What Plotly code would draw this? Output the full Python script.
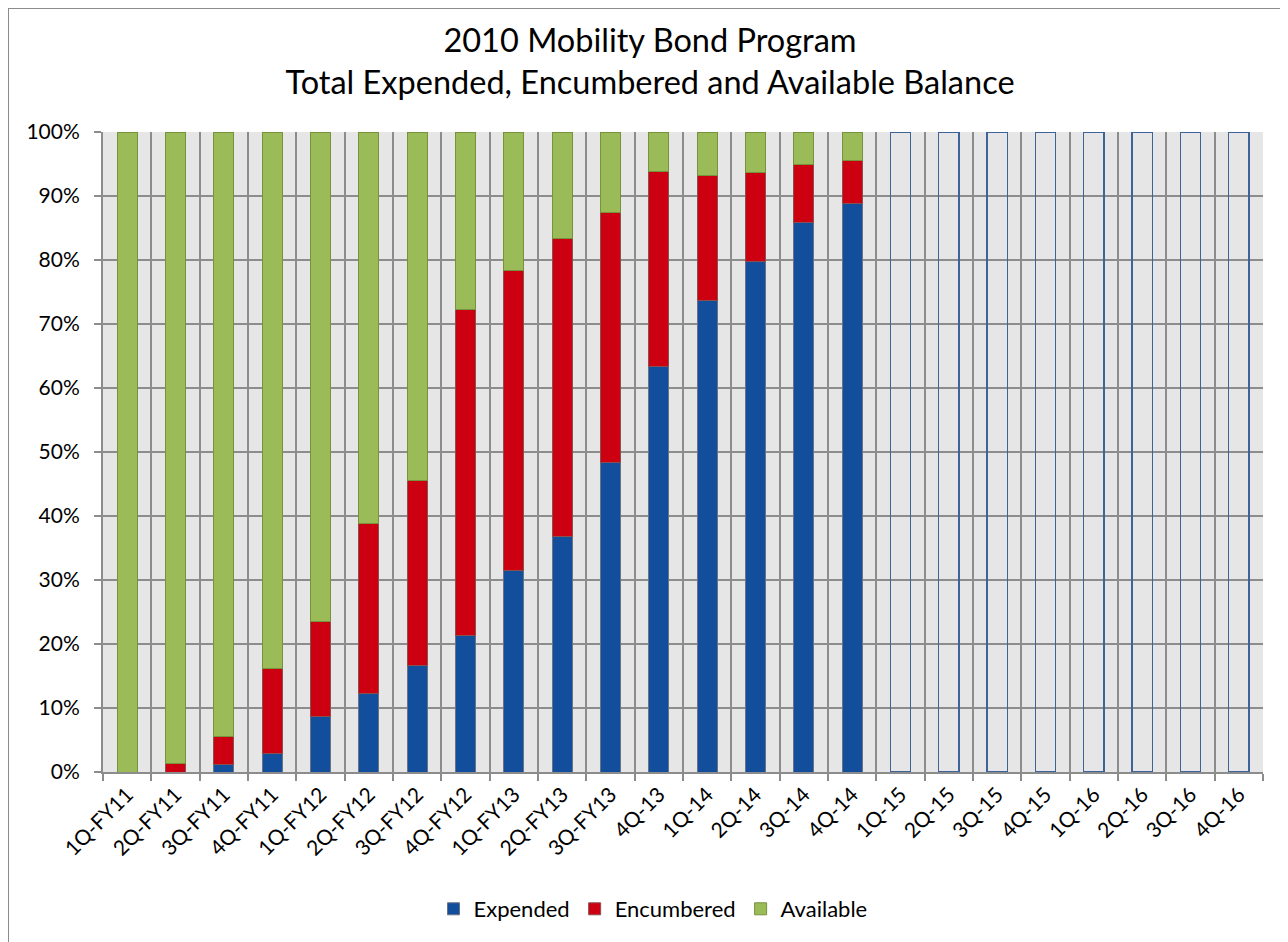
import plotly.graph_objects as go

categories = ["1Q-FY11", "2Q-FY11", "3Q-FY11", "4Q-FY11", "1Q-FY12", "2Q-FY12", "3Q-FY12", "4Q-FY12",
              "1Q-FY13", "2Q-FY13", "3Q-FY13", "4Q-13", "1Q-14", "2Q-14", "3Q-14", "4Q-14",
              "1Q-15", "2Q-15", "3Q-15", "4Q-15", "1Q-16", "2Q-16", "3Q-16", "4Q-16"]

expended = [0, 0, 1.1, 2.9, 8.6, 12.3, 16.7, 21.4, 31.5, 36.8, 48.3, 63.3, 73.6, 79.7, 85.9, 88.9,
            None, None, None, None, None, None, None, None]
encumbered = [0, 1.35, 4.4, 13.2, 14.9, 26.6, 28.8, 50.8, 46.8, 46.6, 39.2, 30.6, 19.6, 13.9, 9.1, 6.7,
              None, None, None, None, None, None, None, None]
available = [100, 98.65, 94.5, 83.9, 76.5, 61.1, 54.5, 27.8, 21.7, 16.6, 12.5, 6.1, 6.8, 6.4, 5.0, 4.4,
             None, None, None, None, None, None, None, None]
projected = [None] * 16 + [100] * 8

FONT = "Lato, 'Open Sans', sans-serif"


def frac(vals):
    return [v / 100 if v is not None else None for v in vals]


fig = go.Figure()
fig.add_trace(go.Bar(x=categories, y=frac(expended), name="Expended",
                     marker=dict(color="#124E9C", line=dict(color="#6a7385", width=1))))
fig.add_trace(go.Bar(x=categories, y=frac(encumbered), name="Encumbered",
                     marker=dict(color="#CC0010", line=dict(color="#8a5050", width=1))))
fig.add_trace(go.Bar(x=categories, y=frac(available), name="Available",
                     marker=dict(color="#9BBB59", line=dict(color="#76923C", width=1))))
fig.add_trace(go.Bar(x=categories, y=frac(projected), name="Projected", showlegend=False,
                     marker=dict(color="rgba(0,0,0,0)", line=dict(color="#3D6399", width=1.5))))

# page has an 8px body margin; figure is offset by (8, 8)
W, H = 1280, 934
L, R, T, B = 95, 25, 124, 170
PW, PH = W - L - R, H - T - B

fig.update_layout(
    barmode="stack",
    bargap=0.58,
    width=W, height=H,
    margin=dict(l=L, r=R, t=T, b=B),
    paper_bgcolor="white",
    plot_bgcolor="#E6E6E6",
    font=dict(family=FONT, color="black", size=21),
    title=dict(text="2010 Mobility Bond Program<br>Total Expended, Encumbered and Available Balance",
               x=642 / W, xanchor="center", y=1 - 44 / H, yanchor="middle", yref="container",
               font=dict(size=32.5, family=FONT, color="black")),
    legend=dict(orientation="h", x=(645 - L) / PW, xanchor="center", y=-(901 - (H - B)) / PH,
                yanchor="middle", font=dict(size=22), traceorder="normal"),
    showlegend=True,
)
fig.update_xaxes(
    type="category", tickson="boundaries", tickangle=-45,
    showgrid=True, gridcolor="#8C8C8C", gridwidth=1.5,
    showline=True, linecolor="#8C8C8C", linewidth=2,
    ticks="outside", ticklen=7, tickcolor="#8C8C8C", tickwidth=1.5,
    tickfont=dict(size=21),
)
fig.update_yaxes(
    range=[0, 1], tickformat=".0%", dtick=0.1,
    showgrid=True, gridcolor="#8C8C8C", gridwidth=1.5,
    showline=True, linecolor="#8C8C8C", linewidth=2,
    ticks="outside", ticklen=7, tickcolor="#8C8C8C", tickwidth=1.5,
    tickfont=dict(size=21), zeroline=False, ticklabelstandoff=10,
)
fig.add_shape(type="rect", xref="paper", yref="paper",
              x0=(0 - L) / PW, x1=(W + 20 - L) / PW,
              y0=-(B + 20) / PH, y1=1 + (T - 0) / PH,
              line=dict(color="#8C8C8C", width=2), layer="below")

fig.write_html("out.html")
